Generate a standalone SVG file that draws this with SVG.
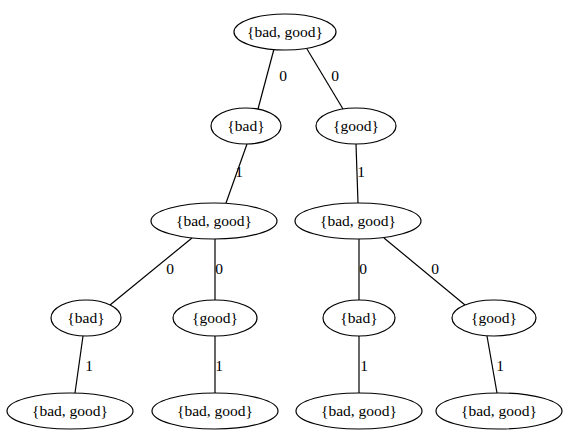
<svg xmlns="http://www.w3.org/2000/svg" width="565" height="431" viewBox="0 0 565 431">
<style>
  .n ellipse { fill: #ffffff; stroke: #000000; stroke-width: 1.2; }
  text { font-family: "Liberation Serif", "Times New Roman", serif; font-size: 15.5px; fill: #000000; text-anchor: middle; }
  .e line { stroke: #000000; stroke-width: 1.2; }
</style>
<rect width="565" height="431" fill="#ffffff"/>
<g id="edges" class="e">
  <line x1="274" y1="49" x2="258" y2="109"/>
  <line x1="307" y1="49" x2="343" y2="109"/>
  <line x1="247" y1="144" x2="226" y2="203"/>
  <line x1="356" y1="144" x2="358" y2="203"/>
  <line x1="192" y1="238" x2="110" y2="305"/>
  <line x1="215" y1="239" x2="215" y2="300"/>
  <line x1="359" y1="239" x2="359" y2="300"/>
  <line x1="384" y1="238" x2="465" y2="305"/>
  <line x1="83" y1="336" x2="75" y2="393"/>
  <line x1="215" y1="336" x2="215" y2="393"/>
  <line x1="359" y1="336" x2="359" y2="393"/>
  <line x1="487" y1="336" x2="497" y2="393"/>
  <text x="283" y="81">0</text>
  <text x="335" y="81">0</text>
  <text x="239" y="177">1</text>
  <text x="361" y="177">1</text>
  <text x="170" y="274">0</text>
  <text x="219" y="274">0</text>
  <text x="363" y="274">0</text>
  <text x="435" y="274">0</text>
  <text x="89" y="371">1</text>
  <text x="219" y="371">1</text>
  <text x="364" y="371">1</text>
  <text x="500" y="371">1</text>
</g>
<g id="root" class="n"><ellipse cx="285" cy="32" rx="51" ry="18"/><text x="285" y="37">{bad, good}</text></g>
<g id="n0" class="n"><ellipse cx="246" cy="126" rx="35" ry="18"/><text x="246" y="131">{bad}</text></g>
<g id="n1" class="n"><ellipse cx="356" cy="126" rx="40" ry="18"/><text x="356" y="131">{good}</text></g>
<g id="n01" class="n"><ellipse cx="214" cy="221" rx="63" ry="18"/><text x="214" y="226">{bad, good}</text></g>
<g id="n11" class="n"><ellipse cx="358" cy="221" rx="63" ry="18"/><text x="358" y="226">{bad, good}</text></g>
<g id="n010" class="n"><ellipse cx="86" cy="318" rx="35" ry="18"/><text x="86" y="323">{bad}</text></g>
<g id="n011" class="n"><ellipse cx="215" cy="318" rx="42" ry="18"/><text x="215" y="323">{good}</text></g>
<g id="n110" class="n"><ellipse cx="359" cy="318" rx="36" ry="18"/><text x="359" y="323">{bad}</text></g>
<g id="n111" class="n"><ellipse cx="494" cy="318" rx="42" ry="18"/><text x="494" y="323">{good}</text></g>
<g id="n0101" class="n"><ellipse cx="70" cy="411" rx="63" ry="18"/><text x="70" y="416">{bad, good}</text></g>
<g id="n0111" class="n"><ellipse cx="215" cy="411" rx="63" ry="18"/><text x="215" y="416">{bad, good}</text></g>
<g id="n1101" class="n"><ellipse cx="359" cy="411" rx="63" ry="18"/><text x="359" y="416">{bad, good}</text></g>
<g id="n1111" class="n"><ellipse cx="499" cy="411" rx="63" ry="18"/><text x="499" y="416">{bad, good}</text></g>
</svg>
